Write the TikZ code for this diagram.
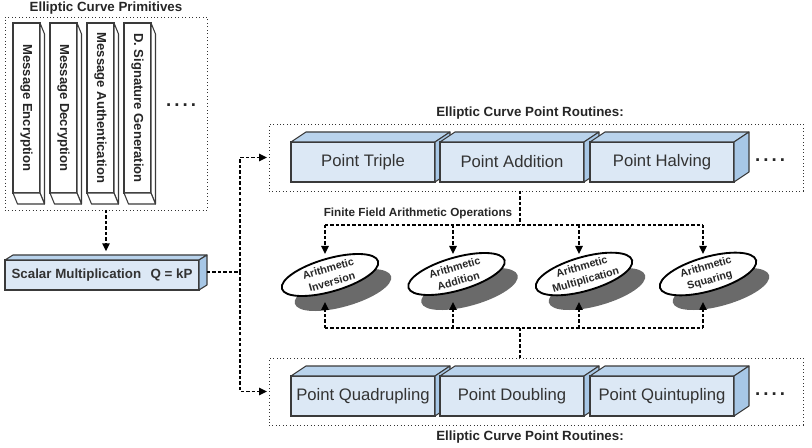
\documentclass[tikz,border=0pt]{standalone}
\usepackage{fontspec}
\setmainfont{Liberation Sans}
\usetikzlibrary{arrows.meta,calc,shapes.geometric}
\definecolor{frontc}{HTML}{DCE8F5}
\definecolor{topc}{HTML}{B9D3EC}
\definecolor{sidec}{HTML}{A7C7E6}
\definecolor{edgec}{HTML}{3A3A3A}
\definecolor{shadowc}{HTML}{6A6A6A}
\newcommand\fourdots{.\hspace{2.3pt}.\hspace{2.3pt}.\hspace{2.3pt}.}
\tikzset{
 sz/.style 2 args={minimum width=#1*0.75pt, minimum height=#2*0.75pt},
 container/.style={draw=black!80, dotted, line width=0.6pt, inner sep=0pt, outer sep=0pt},
 title/.style={font=\fontsize{10}{12}\selectfont\bfseries, text=black!85},
 hbox/.style={draw=edgec, line width=0.8pt, fill=frontc, inner sep=0pt, outer sep=0pt, font=\fontsize{12.5}{14}\selectfont, text=black!80},
 topface/.style={draw=edgec, line width=0.8pt, fill=topc, line join=round},
 sideface/.style={draw=edgec, line width=0.8pt, fill=sidec, line join=round},
 vbox/.style={draw=edgec, line width=0.8pt, fill=white, inner sep=0pt, outer sep=0pt},
 vface/.style={draw=edgec, line width=0.8pt, fill=white, line join=round},
 vtext/.style={rotate=-90, font=\fontsize{9.8}{11}\selectfont\bfseries, text=black!85},
 dline/.style={line width=1.1pt, dash pattern=on 2.5pt off 1.6pt},
 arr/.style={dline, -{Triangle[length=6pt,width=5.5pt]}},
 ell/.style={ellipse, draw=black, line width=1.4pt, fill=white, rotate=16, sz={100}{33}, inner sep=0pt, align=center, font=\fontsize{8}{10.5}\selectfont\bfseries, text=black!85},
 ellsh/.style={ellipse, fill=shadowc, rotate=16, sz={100}{33}, inner sep=0pt},
 dotsn/.style={font=\fontsize{14}{14}\selectfont\bfseries, text=black!85},
 label2/.style={font=\fontsize{8.8}{10}\selectfont\bfseries, text=black!85},
}
\newcommand\hcube[4]{%
 \node[hbox, sz={144}{40}] (#1) at (#2,#3) {#4};
 \draw[topface] (#1.north west) -- ++(15,-10) -- ($(#1.north east)+(15,-10)$) -- (#1.north east) -- cycle;
 \draw[sideface] (#1.north east) -- ++(15,-10) -- ($(#1.south east)+(15,-10)$) -- (#1.south east) -- cycle;
}
\newcommand\vcube[3]{%
 \node[vbox, sz={27}{170}, label={[vtext]center:#3}] (#1) at (#2,108) {};
 \draw[vface] (#1.north east) -- ++(4.5,11) -- ($(#1.south east)+(4.5,11)$) -- (#1.south east) -- cycle;
 \draw[vface] (#1.south west) -- ++(4.5,11) -- ($(#1.south east)+(4.5,11)$) -- (#1.south east) -- cycle;
}
\begin{document}
\begin{tikzpicture}[x=0.75pt,y=-0.75pt]
\useasboundingbox (0,0) rectangle (812,448);

% primitives
\node[title] (tprim) at (106,8) {Elliptic Curve Primitives};
\node[container, sz={202}{193}] (prim) at (106,113.5) {};
\vcube{p1}{26.5}{Message Encryption}
\vcube{p2}{63.5}{Message Decryption}
\vcube{p3}{100.5}{Message Authentication}
\vcube{p4}{137.5}{D. Signature Generation}
\node[dotsn] (pdots) at (181,105) {\fourdots};

% scalar multiplication
\node[hbox, sz={194}{30}, font=\fontsize{10}{12}\selectfont\bfseries] (sm) at (102,275) {Scalar Multiplication\hspace{0.7em}Q = kP};
\draw[topface] (sm.north west) -- ++(8,-5) -- ($(sm.north east)+(8,-5)$) -- (sm.north east) -- cycle;
\draw[sideface] (sm.north east) -- ++(8,-5) -- ($(sm.south east)+(8,-5)$) -- (sm.south east) -- cycle;

\draw[arr, shorten >=6.5pt] (prim.south) -- (prim.south |- sm.north);

% top routines
\node[title] (ttop) at (530,113) {Elliptic Curve Point Routines:};
\node[container, sz={534}{67}] (rtop) at (536,157.5) {};
\hcube{ptr}{363}{162}{Point Triple}
\hcube{pad}{512}{162}{Point Addition}
\hcube{pha}{662}{162}{Point Halving}
\node[dotsn] (tdots) at (770,160) {\fourdots};

% bottom routines
\node[title] (tbot) at (530,437) {Elliptic Curve Point Routines:};
\node[container, sz={534}{67}] (rbot) at (536,391.5) {};
\hcube{pqu}{363}{396}{Point Quadrupling}
\hcube{pdo}{512}{396}{Point Doubling}
\hcube{pqi}{662}{396}{Point Quintupling}
\node[dotsn] (bdots) at (770,394) {\fourdots};

% left junction
\coordinate (smr) at ($(sm.east)+(8,-3)$);
\coordinate (j) at (240,272);
\draw[dline] (smr) -- (j);
\draw[arr, shorten >=1.5pt] (j) |- (rtop.west);
\draw[arr, shorten >=1.5pt] (j) |- (rbot.west);

% finite field ops
\node[label2] (ffa) at (418,213) {Finite Field Arithmetic Operations};

\node[ellsh] (s1) at (343,290) {};
\node[ellsh] (s2) at (469.5,289) {};
\node[ellsh] (s3) at (597,289) {};
\node[ellsh] (s4) at (721,289) {};

\coordinate (hub) at (520,225);
\coordinate (d1) at (325,225);
\coordinate (d2) at (453,225);
\coordinate (d3) at (579,225);
\coordinate (d4) at (703,225);
\coordinate (t1) at (325,254);
\coordinate (t2) at (453,254);
\coordinate (t3) at (579,254);
\coordinate (t4) at (703,254);
\coordinate (hub2) at (520,328);
\coordinate (u1) at (325,328);
\coordinate (u2) at (453,328);
\coordinate (u3) at (579,328);
\coordinate (u4) at (703,328);
\coordinate (v1) at (325,302);
\coordinate (v2) at (453,302);
\coordinate (v3) at (579,302);
\coordinate (v4) at (703,302);

\draw[dline] (rtop.south -| hub) -- (hub);
\draw[dline] (d1) -- (d4);
\foreach \i in {1,...,4} {\draw[arr] (d\i) -- (t\i);}

\node[ell] (e1) at (330,275) {Arithmetic\\Inversion};
\node[ell] (e2) at (456.5,274) {Arithmetic\\Addition};
\node[ell] (e3) at (584,274) {Arithmetic\\Multiplication};
\node[ell] (e4) at (708,274) {Arithmetic\\Squaring};

\draw[dline] (u1) -- (u4);
\foreach \i in {1,...,4} {\draw[arr] (u\i) -- (v\i);}
\draw[dline] (hub2) -- (hub2 |- rbot.north);
\end{tikzpicture}
\end{document}
